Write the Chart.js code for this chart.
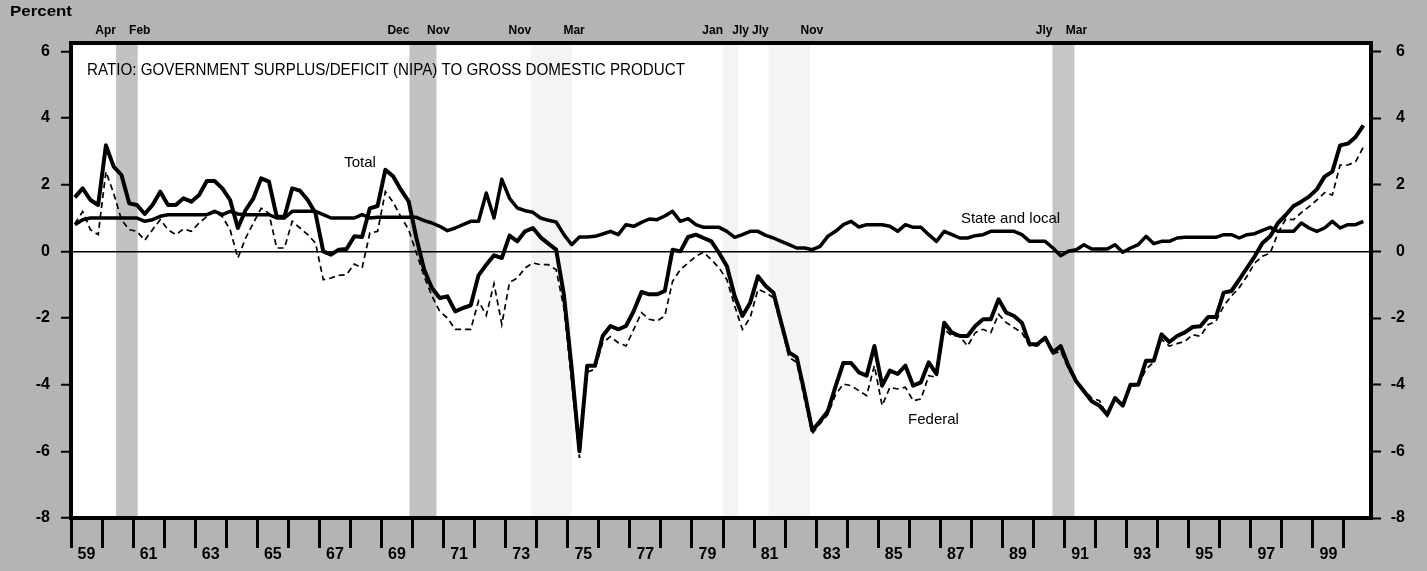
<!DOCTYPE html>
<html>
<head>
<meta charset="utf-8">
<title>Ratio: government surplus/deficit (NIPA) to GDP</title>
<script src="https://cdn.jsdelivr.net/npm/chart.js@4.4.1/dist/chart.umd.min.js"></script>
<style>
    html, body { margin: 0; padding: 0; background: #b4b4b4; }
    #wrap { width: 1427px; height: 571px; }
</style>
</head>
<body>
<div id="wrap"><canvas id="ratioChart" width="1427" height="571"></canvas></div>
<script>
// Quarterly ratios, percent of GDP, 1959Q1 .. 2000Q3
const startYear = 1959;

const totalRatio = [
    1.62, 1.89, 1.54, 1.39, 3.18, 2.54, 2.29, 1.44, 1.39, 1.12,
    1.39, 1.79, 1.39, 1.39, 1.59, 1.49, 1.69, 2.11, 2.11, 1.89,
    1.54, 0.70, 1.24, 1.59, 2.19, 2.09, 1.04, 1.04, 1.89, 1.82,
    1.54, 1.14, 0.00, -0.10, 0.05, 0.07, 0.45, 0.43, 1.29, 1.36,
    2.45, 2.25, 1.85, 1.50, 0.40, -0.55, -1.10, -1.40, -1.35, -1.80,
    -1.70, -1.62, -0.72, -0.40, -0.12, -0.20, 0.47, 0.30, 0.60, 0.70,
    0.42, 0.23, 0.05, -1.30, -3.50, -6.00, -3.43, -3.43, -2.54, -2.24,
    -2.34, -2.24, -1.79, -1.22, -1.29, -1.29, -1.19, 0.05, 0.00, 0.43,
    0.50, 0.40, 0.30, -0.05, -0.45, -1.34, -1.94, -1.54, -0.75, -1.04,
    -1.24, -2.14, -3.03, -3.18, -4.23, -5.37, -5.10, -4.80, -4.05, -3.35,
    -3.35, -3.63, -3.73, -2.84, -4.03, -3.58, -3.68, -3.43, -4.03, -3.93,
    -3.33, -3.68, -2.14, -2.44, -2.54, -2.54, -2.24, -2.04, -2.04, -1.44,
    -1.84, -1.94, -2.14, -2.79, -2.79, -2.59, -3.03, -2.84, -3.43, -3.90,
    -4.20, -4.50, -4.63, -4.90, -4.40, -4.63, -4.00, -4.00, -3.28, -3.28,
    -2.49, -2.72, -2.54, -2.43, -2.27, -2.25, -1.97, -1.97, -1.24, -1.19,
    -0.85, -0.50, -0.15, 0.25, 0.45, 0.85, 1.09, 1.36, 1.49, 1.64,
    1.86, 2.24, 2.39, 3.18, 3.23, 3.43, 3.78
];

const federalRatio = [
    0.83, 1.19, 0.65, 0.50, 2.39, 1.74, 0.95, 0.65, 0.60, 0.33,
    0.65, 0.95, 0.65, 0.50, 0.67, 0.60, 0.85, 1.04, 1.19, 1.04,
    0.65, -0.20, 0.40, 0.85, 1.29, 1.14, 0.10, 0.10, 0.90, 0.70,
    0.50, 0.25, -0.85, -0.80, -0.72, -0.70, -0.38, -0.50, 0.55, 0.60,
    1.79, 1.47, 1.04, 0.65, -0.05, -0.75, -1.34, -1.80, -2.00, -2.34,
    -2.34, -2.34, -1.49, -1.92, -0.97, -2.19, -0.93, -0.80, -0.50, -0.35,
    -0.40, -0.40, -0.55, -1.70, -3.90, -6.20, -3.63, -3.53, -2.74, -2.56,
    -2.74, -2.84, -2.34, -1.84, -2.04, -2.09, -1.94, -0.90, -0.55, -0.35,
    -0.15, -0.03, -0.25, -0.50, -0.85, -1.64, -2.34, -1.99, -1.14, -1.24,
    -1.39, -2.24, -3.18, -3.33, -4.43, -5.47, -5.17, -4.90, -4.30, -3.98,
    -4.03, -4.18, -4.33, -3.43, -4.63, -4.08, -4.13, -4.08, -4.48, -4.43,
    -3.73, -3.78, -2.34, -2.54, -2.54, -2.84, -2.44, -2.34, -2.44, -1.89,
    -2.14, -2.29, -2.44, -2.84, -2.84, -2.64, -3.08, -2.99, -3.53, -3.90,
    -4.15, -4.40, -4.48, -4.95, -4.43, -4.63, -4.03, -4.03, -3.53, -3.33,
    -2.64, -2.84, -2.77, -2.70, -2.50, -2.55, -2.20, -2.10, -1.64, -1.34,
    -1.09, -0.75, -0.35, -0.15, -0.05, 0.55, 0.97, 0.95, 1.16, 1.34,
    1.54, 1.76, 1.69, 2.59, 2.59, 2.69, 3.13
];

const stateLocalRatio = [
    0.80, 0.95, 1.00, 1.00, 1.00, 1.00, 1.00, 1.00, 1.00, 0.90,
    0.95, 1.05, 1.10, 1.10, 1.10, 1.10, 1.10, 1.10, 1.20, 1.10,
    1.20, 1.12, 1.10, 1.10, 1.10, 1.10, 1.00, 1.00, 1.20, 1.20,
    1.20, 1.20, 1.10, 1.00, 1.00, 1.00, 1.00, 1.10, 1.00, 1.02,
    1.02, 1.02, 1.02, 1.02, 1.02, 0.92, 0.85, 0.75, 0.62, 0.70,
    0.80, 0.90, 0.90, 1.75, 1.00, 2.16, 1.59, 1.30, 1.22, 1.17,
    1.00, 0.93, 0.88, 0.50, 0.20, 0.43, 0.43, 0.45, 0.52, 0.60,
    0.50, 0.80, 0.75, 0.87, 0.97, 0.95, 1.06, 1.20, 0.90, 0.98,
    0.80, 0.72, 0.72, 0.72, 0.60, 0.42, 0.50, 0.60, 0.60, 0.48,
    0.40, 0.30, 0.20, 0.10, 0.10, 0.05, 0.15, 0.45, 0.60, 0.80,
    0.90, 0.73, 0.80, 0.80, 0.80, 0.75, 0.60, 0.80, 0.72, 0.72,
    0.50, 0.30, 0.60, 0.50, 0.40, 0.40, 0.47, 0.50, 0.60, 0.60,
    0.60, 0.60, 0.50, 0.30, 0.30, 0.30, 0.10, -0.13, 0.00, 0.05,
    0.20, 0.07, 0.07, 0.07, 0.20, -0.03, 0.10, 0.20, 0.45, 0.23,
    0.30, 0.30, 0.40, 0.42, 0.42, 0.42, 0.42, 0.42, 0.50, 0.50,
    0.40, 0.50, 0.53, 0.63, 0.72, 0.60, 0.60, 0.60, 0.85, 0.70,
    0.60, 0.70, 0.90, 0.70, 0.80, 0.80, 0.90
];

const yTicks = [-8, -6, -4, -2, 0, 2, 4, 6];
const labelYears = [1959, 1961, 1963, 1965, 1967, 1969, 1971, 1973, 1975, 1977, 1979,
                    1981, 1983, 1985, 1987, 1989, 1991, 1993, 1995, 1997, 1999];

// recessions (decimal years) and the month names printed above them
const recessions = [
    [1960.45, 1961.15], [1969.90, 1970.77], [1973.82, 1975.14],
    [1980.00, 1980.50], [1981.47, 1982.80], [1990.61, 1991.32]
];
const recessionMonths = [
    ['Apr', 'Feb'], ['Dec', 'Nov'], ['Nov', 'Mar'],
    ['Jan', 'Jly'], ['Jly', 'Nov'], ['Jly', 'Mar']
];
const recessionShades = ['#c2c2c2', '#c2c2c2', '#f4f4f4', '#f4f4f4', '#f4f4f4', '#c6c6c6'];

const seriesNotes = [
    { text: 'Total', year: 1968.31, value: 2.65 },
    { text: 'State and local', year: 1989.26, value: 0.98 },
    { text: 'Federal', year: 1986.78, value: -5.05 }
];

const FONT = "'Liberation Sans', Arial, Helvetica, sans-serif";

function quarterPoints(values) {
    return values.map((v, i) => ({ x: startYear + (i + 0.5) / 4, y: v }));
}

function drawFitted(ctx, text, x, y, width) {
    const w = ctx.measureText(text).width;
    ctx.save();
    ctx.translate(x, y);
    ctx.scale(width / w, 1);
    ctx.fillText(text, 0, 0);
    ctx.restore();
}

const backdrop = {
    id: 'backdrop',
    beforeDraw(chart) {
        const { ctx, chartArea: a, scales: { x } } = chart;
        ctx.save();
        ctx.fillStyle = '#b4b4b4';
        ctx.fillRect(0, 0, chart.width, chart.height);
        ctx.fillStyle = '#ffffff';
        ctx.fillRect(a.left, a.top, a.right - a.left, a.bottom - a.top);
        recessions.forEach(([s, e], k) => {
            const x0 = x.getPixelForValue(s);
            const x1 = x.getPixelForValue(e);
            ctx.fillStyle = recessionShades[k];
            ctx.fillRect(x0, a.top, x1 - x0, a.bottom - a.top);
        });
        ctx.restore();
    },
    afterDraw(chart) {
        const { ctx, chartArea: a, scales: { x, y } } = chart;
        ctx.save();

        // frame
        ctx.strokeStyle = '#000';
        ctx.lineWidth = 4;
        ctx.strokeRect(a.left, a.top, a.right - a.left, a.bottom - a.top);

        ctx.fillStyle = '#000';
        ctx.textBaseline = 'alphabetic';

        // unit label
        ctx.font = 'bold 15px ' + FONT;
        ctx.textAlign = 'left';
        drawFitted(ctx, 'Percent', 10, 16, 62);

        // recession months
        ctx.font = 'bold 12px ' + FONT;
        recessions.forEach(([s, e], k) => {
            ctx.textAlign = 'right';
            ctx.fillText(recessionMonths[k][0], x.getPixelForValue(s), 34);
            ctx.textAlign = 'center';
            ctx.fillText(recessionMonths[k][1], x.getPixelForValue(e) + 2, 34);
        });

        // title
        ctx.font = '17px ' + FONT;
        ctx.textAlign = 'left';
        ctx.textBaseline = 'middle';
        drawFitted(ctx, 'RATIO: GOVERNMENT SURPLUS/DEFICIT (NIPA) TO GROSS DOMESTIC PRODUCT',
                   a.left + 16, a.top + 27, 598);

        // series names
        ctx.font = '15px ' + FONT;
        ctx.textAlign = 'center';
        seriesNotes.forEach(n => {
            ctx.fillText(n.text, x.getPixelForValue(n.year), y.getPixelForValue(n.value));
        });
        ctx.restore();
    }
};

const ctx = document.getElementById('ratioChart');

new Chart(ctx, {
    type: 'line',
    data: {
        datasets: [
            {
                label: 'Total',
                data: quarterPoints(totalRatio),
                borderColor: '#000',
                borderWidth: 4,
                borderJoinStyle: 'round'
            },
            {
                label: 'State and local',
                data: quarterPoints(stateLocalRatio),
                borderColor: '#000',
                borderWidth: 3.5,
                borderJoinStyle: 'round'
            },
            {
                label: 'Federal',
                data: quarterPoints(federalRatio),
                borderColor: '#000',
                borderWidth: 1.7,
                borderDash: [6, 4]
            }
        ]
    },
    options: {
        responsive: false,
        animation: false,
        events: [],
        layout: { padding: { left: 0, right: 22, top: 43, bottom: 0 } },
        elements: {
            point: { radius: 0 },
            line: { tension: 0, fill: false }
        },
        scales: {
            x: {
                type: 'linear',
                position: 'bottom',
                min: 1959,
                max: 2000.87,
                afterBuildTicks: (scale) => {
                    const t = [];
                    for (let yr = 1959; yr <= 2000; yr++) t.push({ value: yr });
                    scale.ticks = t;
                },
                afterFit: (scale) => { scale.height = 53; },
                grid: {
                    drawOnChartArea: false,
                    tickLength: 30,
                    color: '#000',
                    lineWidth: 3
                },
                border: { display: true, color: '#000', width: 4 },
                ticks: {
                    autoSkip: false,
                    maxRotation: 0,
                    padding: -3,
                    labelOffset: 15.5,
                    color: '#000',
                    font: { family: FONT, size: 16, weight: 'bold' },
                    callback: (v) => labelYears.includes(v) ? String(v).slice(2) : ''
                }
            },
            y: {
                position: 'left',
                min: -8,
                max: 6.25,
                afterBuildTicks: (scale) => { scale.ticks = yTicks.map(v => ({ value: v })); },
                afterFit: (scale) => { scale.width = 71; },
                grid: {
                    color: (c) => (c.tick && c.tick.value === 0) ? '#000' : 'rgba(0,0,0,0)',
                    lineWidth: 1.5,
                    tickColor: '#000',
                    tickWidth: 2,
                    tickLength: 10
                },
                border: { display: true, color: '#000', width: 4 },
                ticks: {
                    padding: 11,
                    color: '#000',
                    font: { family: FONT, size: 16, weight: 'bold' }
                }
            },
            y2: {
                position: 'right',
                min: -8,
                max: 6.25,
                afterBuildTicks: (scale) => { scale.ticks = yTicks.map(v => ({ value: v })); },
                afterFit: (scale) => { scale.width = 34; },
                grid: {
                    drawOnChartArea: false,
                    color: '#000',
                    tickWidth: 2,
                    tickLength: 10
                },
                border: { display: true, color: '#000', width: 4 },
                ticks: {
                    crossAlign: 'far',
                    padding: 10,
                    color: '#000',
                    font: { family: FONT, size: 16, weight: 'bold' }
                }
            }
        },
        plugins: {
            legend: { display: false },
            tooltip: { enabled: false }
        }
    },
    plugins: [backdrop]
});
</script>
</body>
</html>
